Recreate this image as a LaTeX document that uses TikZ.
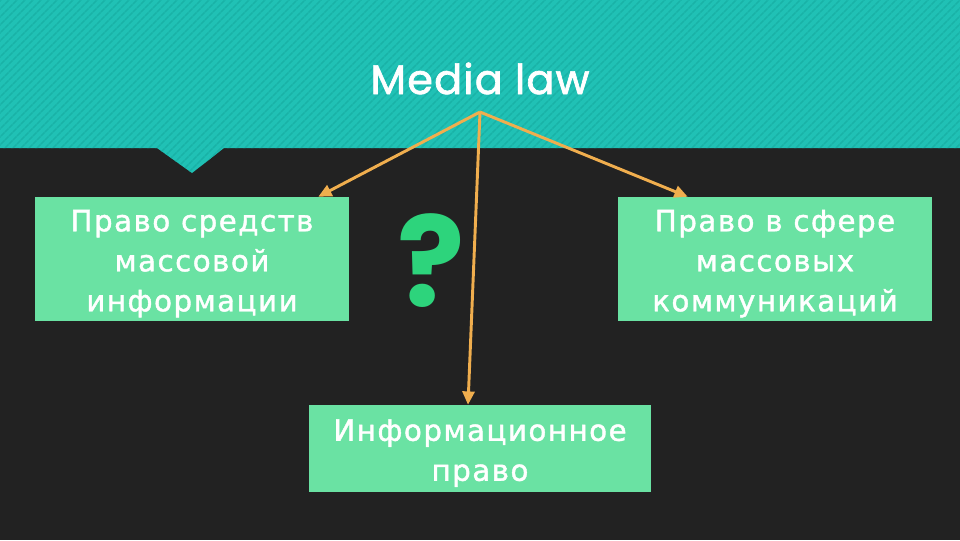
\documentclass[tikz,border=0pt]{standalone}
\usepackage{fontspec}
\usetikzlibrary{arrows.meta,patterns.meta}
\newfontfamily\titlefont[FakeBold=1.6,LetterSpace=3]{Poppins}
\newfontfamily\qfont{Poppins}
\newfontfamily\boxfont[LetterSpace=5,FakeBold=1.4]{DejaVu Sans}
\definecolor{bgdark}{HTML}{222222}
\definecolor{bandteal}{HTML}{20C1B5}
\definecolor{bandstripe}{HTML}{19B2A7}
\definecolor{boxgreen}{HTML}{6AE2A3}
\definecolor{arrowc}{HTML}{F0AE4E}
\definecolor{qgreen}{HTML}{2DD47C}
\tikzset{
  greenbox/.style={fill=boxgreen, text=white, align=center, inner sep=0pt,
    font=\boxfont\fontsize{22}{30}\selectfont},
  conn/.style={draw=arrowc, line width=2.2pt, -{Triangle[length=10pt,width=9pt]}},
}
\begin{document}
\begin{tikzpicture}[x=0.75pt,y=-0.75pt]
\useasboundingbox (0,0) rectangle (960,540);
\fill[bgdark] (0,0) rectangle (960,540);
\path[fill=bandteal, postaction={pattern={Lines[angle=45,distance=4pt,line width=1.2pt]}, pattern color=bandstripe}]
  (0,0) -- (960,0) -- (960,148) -- (224,148) -- (192,173) -- (157,148) -- (0,148) -- cycle;
\node[anchor=base, text=white, font=\titlefont\fontsize{31}{36}\selectfont] (title) at (480,94) {Media law};
\coordinate (src) at (480,112);
\node[greenbox, minimum width=235.5pt, minimum height=93pt] (lb) at (192,259) {\rule{0pt}{23pt}Право средств\\массовой\\информации};
\node[greenbox, minimum width=235.5pt, minimum height=93pt] (rb) at (775,259) {\rule{0pt}{23pt}Право в сфере\\массовых\\коммуникаций};
\node[greenbox, minimum width=256.5pt, minimum height=65.25pt] (bb) at (480,448.5) {\rule{0pt}{23pt}Информационное\\право};
\node[anchor=base, text=qgreen, font=\qfont\bfseries\fontsize{94}{100}\selectfont] (q) at (431,306) {?};
\draw[conn] (src) -- ([xshift=-23.25pt]lb.north east);
\draw[conn] (src) -- ([xshift=52.5pt]rb.north west);
\draw[conn] (src) -- ([xshift=-9pt]bb.north);
\end{tikzpicture}
\end{document}
